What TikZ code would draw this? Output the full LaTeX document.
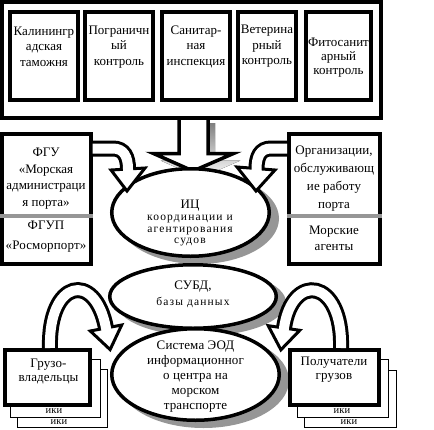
\documentclass[tikz,border=0pt]{standalone}
\usepackage{fontspec}
\setmainfont{Liberation Serif}[LetterSpace=1]
\newfontfamily\topfam{Liberation Serif}[LetterSpace=0]
\newfontfamily\smallfam{Liberation Serif}[LetterSpace=10]
\usetikzlibrary{shapes.geometric}
\definecolor{shade}{RGB}{150,150,150}
\begin{document}
\begin{tikzpicture}[x=1pt,y=-1pt,
  every node/.style={inner sep=0pt, outer sep=0pt},
  txt/.style={align=center, font=\fontsize{13}{15.5}\selectfont},
  toptxt/.style={align=center, font=\topfam\fontsize{13}{15.5}\selectfont},
  smalltxt/.style={align=center, font=\smallfam\fontsize{11.5}{11.5}\selectfont},
  ikitxt/.style={font=\fontsize{10.5}{10.5}\selectfont},
  topbox/.style={draw, line width=4, minimum height=88.5},
  sidebox/.style={draw, line width=4, fill=white},
  ell/.style={draw, ellipse, line width=3.5, fill=white},
  ellshadow/.style={ellipse, fill=shade},
  sepline/.style={draw=shade, line width=4},
  shaft/.style={line width=16, draw=black},
  core/.style={line width=10, draw=white},
  head/.style={draw=black, fill=white, line width=3, line join=miter},
  sheet/.style={draw, line width=0.9, fill=white},
]
\useasboundingbox (0,0) rectangle (434,429);

% ---------- big down arrow ----------
\coordinate (bigtop) at (193.5,118);
\coordinate (bigtip) at (193,171);
\fill[shade] (186,123) -- (186,160.5) -- (160.5,160.5) -- (200,178) -- (240.5,160.5) -- (215,160.5) -- (215,123) -- cycle;
\draw[fill=white, line width=3.5, line join=miter] (179,118) -- (179,153.5) -- (153.5,153.5) -- (bigtip) -- (233.5,153.5) -- (208,153.5) -- (208,118);

% ---------- top block ----------
\node[draw, line width=4, minimum width=379, minimum height=116] (outer) at (191.5,60) {};
\node[topbox, minimum width=68] (b1) at (44,56) {};
\node[topbox, minimum width=68] (b2) at (119,56) {};
\node[topbox, minimum width=68] (b3) at (196,56) {};
\node[topbox, minimum width=58] (b4) at (267,56) {};
\node[topbox, minimum width=65] (b5) at (338.5,56) {};
\node[toptxt] (t1) at (44,46.5) {Калинингр\\адская\\таможня};
\node[toptxt] (t2) at (119,47) {Пограничн\\ый\\контроль};
\node[toptxt] (t3) at (196,46.5) {Санитар-\\ная\\инспекция};
\node[toptxt] (t4) at (267,46.5) {Ветерина\\рный\\контроль};
\node[toptxt, font=\topfam\fontsize{13}{14}\selectfont] (t5) at (338.5,58) {Фитосанит\\арный\\контроль};

% ---------- side boxes ----------
\node[sidebox, minimum width=88.5, minimum height=130] (lbox) at (46.25,199) {};
\node[sidebox, minimum width=90.5, minimum height=130] (rbox) at (334.25,199) {};
\draw[sepline] (0,216) -- (92.5,216);
\draw[sepline] (287,216) -- (381.5,216);
\node[toptxt, font=\topfam\fontsize{13}{16.7}\selectfont] (l1) at (46,178.5) {ФГУ\\«Морская\\администраци\\я порта»};
\node[txt, font=\fontsize{13}{20}\selectfont] (l2) at (46,237) {ФГУП\\«Росморпорт»};
\node[txt, font=\fontsize{13}{18}\selectfont] (r1) at (334,179) {Организации,\\обслуживающ\\ие работу\\порта};
\node[txt, font=\fontsize{13}{16}\selectfont] (r2) at (334,238) {Морские\\агенты};

% ---------- ellipses ----------
\node[ellshadow, minimum width=161, minimum height=91] (e1s) at (198.5,218.5) {};
\node[ellshadow, minimum width=170, minimum height=67] (e2s) at (201,302.5) {};
\node[ellshadow, minimum width=171, minimum height=95] (e3s) at (203.5,380.5) {};
\node[ell, minimum width=157.5, minimum height=87.5] (e1) at (190.5,212.5) {};
\node[ell, minimum width=166.5, minimum height=63.5] (e2) at (193,296.5) {};
\node[ell, minimum width=167.5, minimum height=91.5] (e3) at (195.5,374.5) {};
\node[txt] (e1a) at (190,205.5) {ИЦ};
\node[smalltxt] (e1b) at (190,231) {координации и\\агентирования\\судов};
\node[txt] (e2a) at (193,287) {СУБД,};
\node[smalltxt] (e2b) at (193,302.5) {базы данных};
\node[txt, font=\fontsize{13}{15}\selectfont] (e3a) at (195.5,377) {Система ЭОД\\информационног\\о центра на\\морском\\транспорте};

% ---------- bottom boxes ----------
\node[sheet, minimum width=90, minimum height=58] (ls3) at (62,398) {};
\node[ikitxt] (lk3) at (59,422.5) {ики};
\node[sheet, minimum width=90, minimum height=58] (ls2) at (55,388) {};
\node[ikitxt] (lk2) at (54,411.5) {ики};
\node[sidebox, minimum width=85, minimum height=55] (lbot) at (47.5,377.5) {};
\node[txt, font=\fontsize{13}{13.5}\selectfont] (lbt) at (48.5,371.5) {Грузо-\\владельцы};

\node[sheet, minimum width=92, minimum height=57] (rs3) at (350,398.5) {};
\node[ikitxt] (rk3) at (349,422.5) {ики};
\node[sheet, minimum width=91, minimum height=58] (rs2) at (342.5,388) {};
\node[ikitxt] (rk2) at (342,411.5) {ики};
\node[sidebox, minimum width=89, minimum height=55] (rbot) at (334.5,377.5) {};
\node[txt, font=\fontsize{13}{14}\selectfont] (rbt) at (334,370) {Получатели\\грузов};

% ---------- curved block arrows ----------
% top-left: lbox -> e1
\coordinate (la0) at (92.5,148.5);
\coordinate (la1) at (128,169);
\draw[shaft] (la0) -- (113,148.5) .. controls (124,148.5) and (128,157) .. (la1);
\draw[head] (111,170) -- (127,191) -- (145,168) -- cycle;
\draw[core] (la0) -- (113,148.5) .. controls (124,148.5) and (128,157) .. (la1) -- (128,172.5);

% top-right: rbox -> e1
\coordinate (ra0) at (287,148.5);
\coordinate (ra1) at (256.5,169);
\draw[shaft] (ra0) -- (271,148.5) .. controls (260,148.5) and (256.5,157) .. (ra1);
\draw[head] (237,167) -- (256,191) -- (275,170) -- cycle;
\draw[core] (ra0) -- (271,148.5) .. controls (260,148.5) and (256.5,157) .. (ra1) -- (256.5,172.5);

% bottom-left: lbot -> e3
\coordinate (ba0) at (50,348);
\coordinate (ba1) at (106,328);
\draw[shaft] (ba0) .. controls (48,280) and (95,270) .. (ba1);
\draw[head] (90.3,331) -- (110.1,349.6) -- (121.7,325) -- cycle;
\draw[core] (ba0) .. controls (48,280) and (95,270) .. (ba1) -- (106.7,331.5);

% bottom-right: rbot -> e3
\coordinate (bb0) at (341,348);
\coordinate (bb1) at (284,328);
\draw[shaft] (bb0) .. controls (343,278) and (292,272) .. (bb1);
\draw[head] (268.2,325.7) -- (280.9,349.8) -- (299.8,330.3) -- cycle;
\draw[core] (bb0) .. controls (343,278) and (292,272) .. (bb1) -- (283.5,331.5);
\end{tikzpicture}
\end{document}
